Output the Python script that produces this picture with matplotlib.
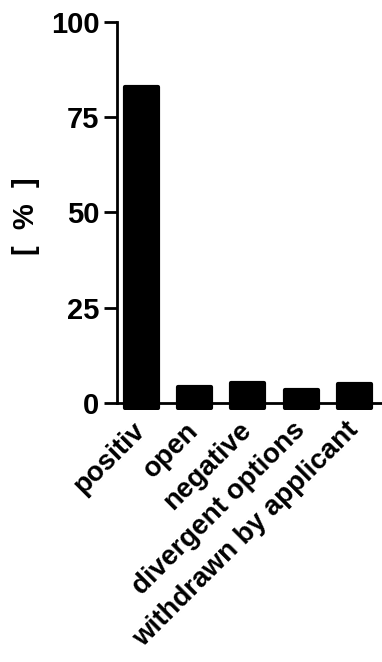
import numpy as np
import matplotlib.pyplot as plt

plt.rcParams['font.family'] = ['Liberation Sans', 'DejaVu Sans']
plt.rcParams['font.weight'] = 'bold'

categories = ['positiv', 'open', 'negative', 'divergent options', 'withdrawn by applicant']
percent = [83, 4.2, 5.3, 3.4, 5.0]

fig = plt.figure(figsize=(3.82, 6.62), dpi=100)
ax = fig.add_axes([0.306, 0.380, 0.694, 0.587])

x = np.arange(len(categories))
# bars sink a little below the zero line, like in the original
sink = 1.3
ax.bar(x, np.array(percent) + sink, bottom=-sink, width=0.62, color='black',
       edgecolor='black', linewidth=3, joinstyle='round', zorder=3)

ax.set_xlim(-0.462, 4.519)
ax.set_ylim(-2, 100)
ax.set_yticks([0, 25, 50, 75, 100])

for s in ['top', 'right']:
    ax.spines[s].set_visible(False)
ax.spines['left'].set_bounds(0, 100)
ax.spines['bottom'].set_position(('data', 0))
ax.spines['left'].set_linewidth(2)
ax.spines['bottom'].set_linewidth(2)

ax.tick_params(axis='y', length=9.5, width=2, pad=3, labelsize=21)
ax.tick_params(axis='x', length=0, pad=17, labelsize=20)
ax.set_xticks(x)
ax.set_xticklabels(categories, rotation=45, ha='right', va='center',
                   rotation_mode='anchor')

ax.set_ylabel('[  %  ]', fontsize=21, fontweight='bold', labelpad=8)

fig.savefig('out.png', dpi=100)
